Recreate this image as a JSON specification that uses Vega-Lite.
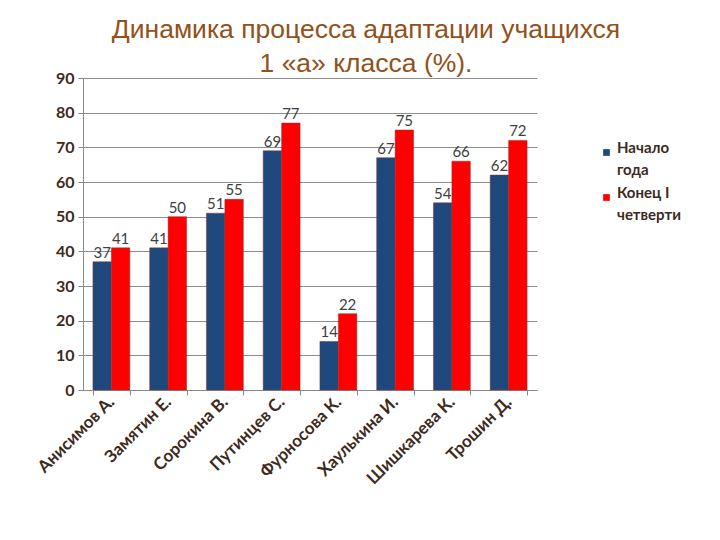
{
  "$schema": "https://vega.github.io/schema/vega-lite/v6.json",
  "width": 454,
  "height": 312,
  "autosize": {"type": "none"},
  "padding": {"left": 83, "top": 78, "right": 183, "bottom": 150},
  "background": "white",
  "title": {
    "text": ["Динамика процесса адаптации учащихся", "1 «а» класса (%)."],
    "font": "Liberation Sans",
    "fontSize": 26.5,
    "fontWeight": "normal",
    "color": "#94501a",
    "lineHeight": 34,
    "anchor": "middle",
    "dx": 56,
    "dy": 7,
    "offset": 0
  },
  "data": {
    "values": [
      {"name": "Анисимов А.", "series": "Начало года", "value": 37},
      {"name": "Анисимов А.", "series": "Конец I четверти", "value": 41},
      {"name": "Замятин Е.", "series": "Начало года", "value": 41},
      {"name": "Замятин Е.", "series": "Конец I четверти", "value": 50},
      {"name": "Сорокина В.", "series": "Начало года", "value": 51},
      {"name": "Сорокина В.", "series": "Конец I четверти", "value": 55},
      {"name": "Путинцев С.", "series": "Начало года", "value": 69},
      {"name": "Путинцев С.", "series": "Конец I четверти", "value": 77},
      {"name": "Фурносова К.", "series": "Начало года", "value": 14},
      {"name": "Фурносова К.", "series": "Конец I четверти", "value": 22},
      {"name": "Хаулькина И.", "series": "Начало года", "value": 67},
      {"name": "Хаулькина И.", "series": "Конец I четверти", "value": 75},
      {"name": "Шишкарева К.", "series": "Начало года", "value": 54},
      {"name": "Шишкарева К.", "series": "Конец I четверти", "value": 66},
      {"name": "Трошин Д.", "series": "Начало года", "value": 62},
      {"name": "Трошин Д.", "series": "Конец I четверти", "value": 72}
    ]
  },
  "encoding": {
    "x": {
      "field": "name",
      "type": "nominal",
      "sort": null,
      "scale": {"paddingInner": 0.35, "paddingOuter": 0.175},
      "axis": {
        "title": null,
        "labelAngle": -45,
        "labelAlign": "right",
        "labelBaseline": "middle",
        "labelFont": "Lato",
        "labelFontWeight": "bold",
        "labelFontSize": 17,
        "labelColor": "#3d2a1c",
        "labelPadding": 4,
        "tickBand": "extent",
        "tickColor": "#888888",
        "tickSize": 5,
        "domainColor": "#888888",
        "grid": false
      }
    },
    "xOffset": {"field": "series", "sort": ["Начало года", "Конец I четверти"]},
    "y": {
      "field": "value",
      "type": "quantitative",
      "scale": {"domain": [0, 90], "nice": false},
      "axis": {
        "title": null,
        "values": [0, 10, 20, 30, 40, 50, 60, 70, 80, 90],
        "labelFont": "Lato",
        "labelFontWeight": "bold",
        "labelFontSize": 16,
        "labelColor": "#3d2a1c",
        "labelPadding": 4,
        "tickColor": "#888888",
        "tickSize": 5,
        "domainColor": "#888888",
        "gridColor": "#8c8c8c",
        "gridWidth": 1.2
      }
    }
  },
  "layer": [
    {
      "mark": {"type": "bar", "stroke": "#8a3030", "strokeWidth": 0.5},
      "encoding": {
        "color": {
          "field": "series",
          "type": "nominal",
          "scale": {"domain": ["Начало года", "Конец I четверти"], "range": ["#1f497d", "#ff0000"]},
          "legend": {
            "title": null,
            "orient": "none",
            "legendX": 516,
            "legendY": 67,
            "symbolType": "square",
            "symbolSize": 45,
            "symbolStrokeWidth": 0,
            "labelFont": "Lato",
            "labelFontWeight": "bold",
            "labelFontSize": 15,
            "labelColor": "#3d2a1c",
            "labelBaseline": "alphabetic",
            "labelOffset": 3,
            "labelExpr": "datum.label == 'Начало года' ? ['Начало', 'года'] : ['Конец I', 'четверти']",
            "rowPadding": 7
          }
        }
      }
    },
    {
      "mark": {"type": "text", "baseline": "bottom", "dy": -1, "font": "Lato", "fontSize": 15, "color": "#404040"},
      "encoding": {"text": {"field": "value", "type": "quantitative"}}
    }
  ],
  "config": {
    "view": {"stroke": null},
    "style": {"guide-label": {"lineHeight": 22}}
  }
}
